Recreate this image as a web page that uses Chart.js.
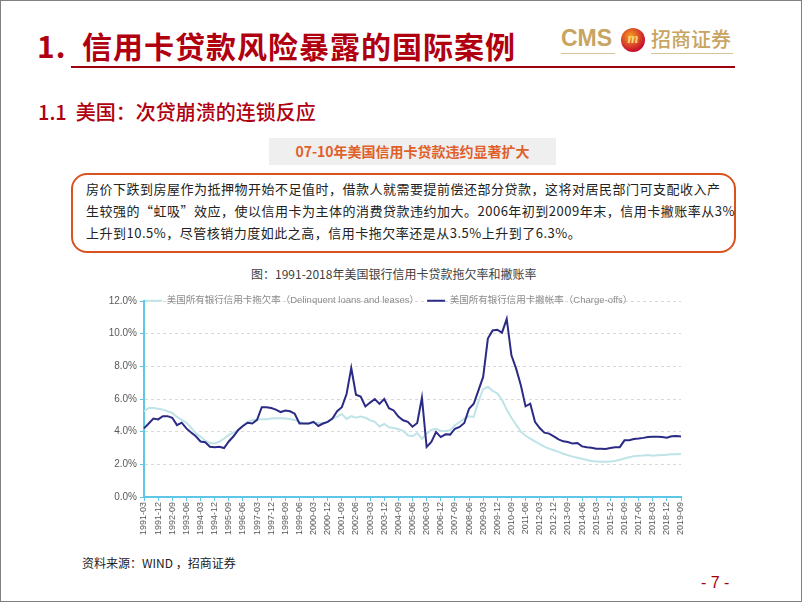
<!DOCTYPE html>
<html>
<head>
<meta charset="utf-8">
<script src="https://cdn.jsdelivr.net/npm/chart.js@4.4.0/dist/chart.umd.min.js"></script>
<style>
  html, body { margin: 0; padding: 0; background: #fff; }
  #page { position: relative; width: 802px; height: 602px; border: 1px solid #808080; box-sizing: border-box; overflow: hidden; font-family: "Noto Sans CJK SC", sans-serif; }
  .abs { position: absolute; white-space: nowrap; }
  #title { left: 36px; top: 22px; font-size: 30px; font-weight: 700; color: #b00010; letter-spacing: 1px; }
  #titleLine { left: 70px; top: 65px; width: 664px; height: 2px; background: #a00010; }
  #cms { left: 560px; top: 24px; font-family: "Liberation Sans", sans-serif; font-weight: 700; font-size: 23px; color: #c8a461; }
  #cmsLine { left: 560px; top: 52px; width: 54px; height: 1px; background: #d8c49a; }
  #logo { left: 620px; top: 27px; width: 24px; height: 24px; border-radius: 50%; background: radial-gradient(circle at 40% 35%, #f6a21e, #c8102e 70%); color: #f7d77a; font: italic 700 14px "Liberation Serif", serif; text-align: center; line-height: 22px; }
  #zs { left: 650px; top: 23px; font-size: 20px; color: #c8a461; font-weight: 500; }
  #zsLine { left: 650px; top: 52px; width: 82px; height: 1px; background: #d8c49a; }
  #sub { left: 37px; top: 96px; font-size: 20px; font-weight: 500; color: #b00010; }
  #tag { left: 268px; top: 137px; width: 287px; height: 27px; background: #efefef; color: #e0602a; font-size: 14px; font-weight: 700; text-align: center; line-height: 27px; }
  #box { left: 70px; top: 172px; width: 665px; height: 80px; border: 2px solid #d9531e; border-radius: 16px; box-sizing: border-box; }
  #boxText { left: 85px; top: 177px; font-size: 13px; line-height: 22px; color: #222; letter-spacing: 0.5px; }
  #ctitle { left: 250px; top: 264px; font-size: 12px; color: #404040; }
  #wrap { left: 95px; top: 290px; width: 600px; height: 256px; }
  #src { left: 81px; top: 553px; font-size: 12px; color: #222; }
  #pg { left: 700px; top: 573px; font-size: 16px; color: #a00010; font-family: "Liberation Sans Narrow", "Liberation Sans", sans-serif; }
</style>
</head>
<body>
<div id="page">
  <div class="abs" id="title">1.&nbsp; 信用卡贷款风险暴露的国际案例</div>
  <div class="abs" id="titleLine"></div>
  <div class="abs" id="cms">CMS</div>
  <div class="abs" id="cmsLine"></div>
  <div class="abs" id="logo">m</div>
  <div class="abs" id="zs">招商证券</div>
  <div class="abs" id="zsLine"></div>
  <div class="abs" id="sub">1.1&nbsp; 美国：次贷崩溃的连锁反应</div>
  <div class="abs" id="tag">07-10年美国信用卡贷款违约显著扩大</div>
  <div class="abs" id="box"></div>
  <div class="abs" id="boxText">房价下跌到房屋作为抵押物开始不足值时，借款人就需要提前偿还部分贷款，这将对居民部门可支配收入产<br>生较强的“虹吸”效应，使以信用卡为主体的消费贷款违约加大。2006年初到2009年末，信用卡撇账率从3%<br>上升到10.5%，尽管核销力度如此之高，信用卡拖欠率还是从3.5%上升到了6.3%。</div>
  <div class="abs" id="ctitle">图：1991-2018年美国银行信用卡贷款拖欠率和撇账率</div>
  <div class="abs" id="wrap"><canvas id="c" width="600" height="256"></canvas></div>
  <div class="abs" id="src">资料来源：WIND ，招商证券</div>
  <div class="abs" id="pg">- 7 -</div>
</div>
<script>
// quarterly, 1991-03 .. 2019-09
const firstYear = 1991;
const quarterCount = 115;
const quarterMonths = ['03', '06', '09', '12'];
const labelEvery = 3;

// 美国所有银行信用卡撇帐率 (Charge-offs), %
const chargeOffs = [
  4.2, 4.5, 4.8, 4.75, 4.95, 4.95, 4.85, 4.4, 4.55, 4.2,
  3.95, 3.72, 3.4, 3.35, 3.08, 3.04, 3.08, 3.0, 3.4, 3.72,
  4.1, 4.35, 4.55, 4.5, 4.72, 5.5, 5.5, 5.45, 5.35, 5.2,
  5.3, 5.25, 5.1, 4.5, 4.5, 4.5, 4.6, 4.35, 4.5, 4.6,
  4.8, 5.25, 5.5, 6.3, 7.9, 6.26, 6.15, 5.54, 5.78, 6.0,
  5.7, 6.0, 5.44, 5.3, 4.92, 4.7, 4.6, 4.3, 4.53, 6.08,
  3.06, 3.37, 3.98, 3.67, 3.84, 3.82, 4.18, 4.29, 4.53, 5.4,
  5.71, 6.53, 7.35, 9.7, 10.2, 10.24, 10.06, 10.9, 8.67, 7.86,
  6.84, 5.55, 5.71, 4.6, 4.22, 3.94, 3.88, 3.71, 3.53, 3.41,
  3.37, 3.27, 3.31, 3.1, 3.05, 3.02, 2.96, 2.95, 2.94, 3.0,
  3.05, 3.05, 3.47, 3.48, 3.55, 3.58, 3.62, 3.67, 3.69, 3.69,
  3.68, 3.63, 3.72, 3.73, 3.71
];

// 美国所有银行信用卡拖欠率 (Delinquent loans and leases), %
const delinquent = [
  5.25, 5.45, 5.45, 5.4, 5.35, 5.25, 5.15, 4.9, 4.72, 4.55,
  4.25, 3.9, 3.7, 3.45, 3.3, 3.28, 3.38, 3.58, 3.8, 3.95,
  4.1, 4.38, 4.6, 4.7, 4.74, 4.76, 4.76, 4.8, 4.82, 4.82,
  4.8, 4.78, 4.72, 4.6, 4.5, 4.5, 4.52, 4.55, 4.5, 4.6,
  4.8, 4.9, 5.08, 4.78, 4.95, 4.86, 4.92, 4.85, 4.7, 4.6,
  4.32, 4.47, 4.27, 4.22, 4.15, 4.05, 3.78, 3.72, 3.92, 3.57,
  3.88, 4.12, 4.18, 4.04, 4.04, 4.08, 4.39, 4.59, 4.8, 4.94,
  4.9, 5.85, 6.6, 6.75, 6.5, 6.35, 5.95, 5.35, 4.85, 4.42,
  4.0, 3.75, 3.58, 3.4, 3.24, 3.08, 2.96, 2.86, 2.76, 2.65,
  2.56, 2.47, 2.4, 2.34, 2.26, 2.2, 2.18, 2.16, 2.16, 2.17,
  2.2, 2.28, 2.36, 2.44, 2.5, 2.53, 2.54, 2.57, 2.53, 2.55,
  2.57, 2.59, 2.61, 2.62, 2.63
];

const yTicks = [0, 2, 4, 6, 8, 10, 12];

const labels = [];
for (let i = 0; i < quarterCount; i++) {
  labels.push((firstYear + Math.floor(i / 4)) + '-' + quarterMonths[i % 4]);
}

const axisBlue = '#5ec6e6';
const legendFont = { family: '"Liberation Sans", "Noto Sans CJK SC", sans-serif', size: 9.5 };

// legend sits on the 12% line in one row (a chartArea legend is laid out as a column by default)
const legendNudge = {
  id: 'legendNudge',
  beforeLayout(chart) {
    chart.legend.isHorizontal = () => true;
  },
  afterLayout(chart) {
    const lg = chart.legend;
    const area = chart.chartArea;
    lg.maxWidth = 2000;
    lg.fit();
    lg.left = area.left - 8;
    lg.right = lg.left + lg.width;
    lg.top = area.top - 13;
    lg.bottom = lg.top + lg.height;
  }
};

new Chart(document.getElementById('c'), {
  type: 'line',
  data: {
    labels: labels,
    datasets: [
      {
        label: '美国所有银行信用卡撇帐率（Charge-offs）',
        data: chargeOffs,
        borderColor: '#2b2a85',
        backgroundColor: '#2b2a85',
        borderWidth: 2,
        pointRadius: 0,
        tension: 0
      },
      {
        label: '美国所有银行信用卡拖欠率（Delinquent loans and leases）',
        data: delinquent,
        borderColor: '#bfe3e6',
        backgroundColor: '#bfe3e6',
        borderWidth: 2,
        pointRadius: 0,
        tension: 0
      }
    ]
  },
  options: {
    responsive: false,
    animation: false,
    devicePixelRatio: 1,
    layout: { padding: { top: 10, right: 15, left: 0, bottom: 0 } },
    plugins: {
      tooltip: { enabled: false },
      legend: {
        position: 'chartArea',
        align: 'start',
        labels: {
          usePointStyle: true,
          pointStyle: 'line',
          pointStyleWidth: 18,
          padding: 8,
          color: '#8c8c8c',
          font: legendFont,
          sort: (a, b) => b.datasetIndex - a.datasetIndex
        }
      }
    },
    scales: {
      x: {
        afterFit: (s) => { s.height = 50; },
        grid: { drawOnChartArea: false, color: axisBlue, tickLength: 4 },
        border: { color: axisBlue, width: 2 },
        ticks: {
          autoSkip: false,
          minRotation: 90,
          maxRotation: 90,
          padding: 1,
          color: '#595959',
          font: { family: '"Liberation Sans", sans-serif', size: 9 },
          callback: (v, i) => (i % labelEvery === 0 ? labels[i] : null)
        }
      },
      y: {
        min: 0,
        max: 12,
        afterFit: (s) => { s.width = 48; },
        afterBuildTicks: (s) => { s.ticks = yTicks.map(v => ({ value: v })); },
        grid: { color: '#d9d9d9', tickColor: axisBlue, tickLength: 4 },
        border: { color: axisBlue, width: 2, dash: [3, 3] },
        ticks: {
          padding: 3,
          color: '#595959',
          font: { family: '"Liberation Sans", sans-serif', size: 10 },
          callback: (v) => v.toFixed(1) + '%'
        }
      }
    }
  },
  plugins: [legendNudge]
});
</script>
</body>
</html>
